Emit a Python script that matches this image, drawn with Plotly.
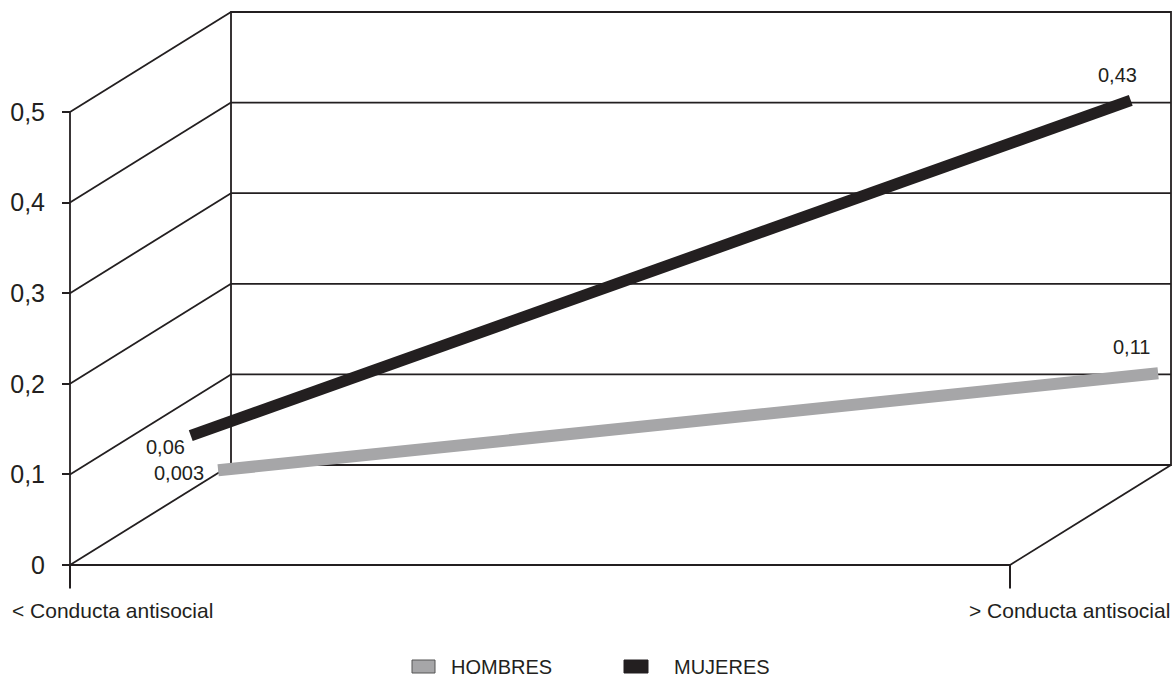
import plotly.graph_objects as go

# ---------------- data ----------------
categories = ["< Conducta antisocial", "> Conducta antisocial"]
hombres = [0.003, 0.11]
mujeres = [0.06, 0.43]
hombres_labels = ["0,003", "0,11"]
mujeres_labels = ["0,06", "0,43"]
y_ticks = [0, 0.1, 0.2, 0.3, 0.4, 0.5]
y_tick_text = ["0", "0,1", "0,2", "0,3", "0,4", "0,5"]
series_names = ["HOMBRES", "MUJERES"]

# ---------------- layout geometry ----------------
W, H = 1174, 681
X0, XW = 70, 940          # pixel of first category on the front plane, width of front plane
Y0, YS = 565, 906         # pixel of value 0 on front plane, pixels per unit
DX = 161 / XW             # depth offset (data units)
DY = 100 / YS
INK = "#231f20"
GREY = "#a6a6a8"
FONT = "Liberation Sans, Arial, sans-serif"

depth = {"HOMBRES": 0.92, "MUJERES": 0.75}


def proj(i, v, f):
    return i + f * DX, v + f * DY


fig = go.Figure()

# series lines
for name, vals, color, width in [("HOMBRES", hombres, GREY, 12), ("MUJERES", mujeres, INK, 11.5)]:
    xs, ys = [], []
    for i, v in enumerate(vals):
        px, py = proj(i, v, depth[name])
        xs.append(px)
        ys.append(py)
    fig.add_trace(go.Scatter(x=xs, y=ys, mode="lines", name=name,
                             line=dict(color=color, width=width),
                             showlegend=False, hoverinfo="skip"))

# frame shapes
shapes = []
ln = dict(color=INK, width=1.8)
top = y_ticks[-1]
shapes.append(dict(type="line", x0=0, y0=0, x1=0, y1=top, line=ln))
for v in y_ticks:
    shapes.append(dict(type="line", x0=0, y0=v, x1=DX, y1=v + DY, line=ln))
shapes.append(dict(type="rect", x0=DX, y0=DY, x1=1 + DX, y1=top + DY, line=ln))
for v in y_ticks[1:-1]:
    shapes.append(dict(type="line", x0=DX, y0=v + DY, x1=1 + DX, y1=v + DY, line=ln))
shapes.append(dict(type="line", x0=0, y0=0, x1=1, y1=0, line=ln))
shapes.append(dict(type="line", x0=1, y0=0, x1=1 + DX, y1=DY, line=ln))
for i in range(len(categories)):
    shapes.append(dict(type="line", x0=i, y0=0, x1=i, y1=-0.026, line=dict(color=INK, width=2)))
for s in shapes:
    s.update(xref="x", yref="y", layer="below")

# legend (manual)
leg = [(412, 435, GREY, "#555555", 449), (624, 648, INK, INK, 672)]
annotations = []
for (xa, xb, fill, edge, tx), name in zip(leg, series_names):
    shapes.append(dict(type="rect", xref="paper", yref="paper",
                       x0=xa / W, x1=xb / W, y0=1 - 673 / H, y1=1 - 660 / H,
                       fillcolor=fill, line=dict(color=edge, width=1)))
    annotations.append(dict(xref="paper", yref="paper", x=tx / W, y=1 - 667 / H,
                            xanchor="left", yanchor="middle", text=name, showarrow=False,
                            font=dict(size=20, color=INK, family=FONT)))

# category labels
annotations.append(dict(xref="paper", yref="paper", x=10 / W, y=1 - 610 / H,
                        xanchor="left", yanchor="middle", text=categories[0], showarrow=False,
                        font=dict(size=21, color=INK, family=FONT)))
annotations.append(dict(xref="paper", yref="paper", x=1172 / W, y=1 - 610 / H,
                        xanchor="right", yanchor="middle", text=categories[1], showarrow=False,
                        font=dict(size=21, color=INK, family=FONT)))

# data labels
label_offsets = {
    ("MUJERES", 0): ("right", -4, -11),
    ("MUJERES", 1): ("center", -13, 25),
    ("HOMBRES", 0): ("right", -12, -3),
    ("HOMBRES", 1): ("center", -27, 26),
}
for name, vals, labs in [("HOMBRES", hombres, hombres_labels), ("MUJERES", mujeres, mujeres_labels)]:
    for i, (v, t) in enumerate(zip(vals, labs)):
        px, py = proj(i, v, depth[name])
        xa, xs, ys = label_offsets[(name, i)]
        annotations.append(dict(x=px, y=py, xref="x", yref="y", text=t, showarrow=False,
                                xanchor=xa, yanchor="middle", xshift=xs, yshift=ys,
                                font=dict(size=20, color=INK, family=FONT)))

fig.update_layout(
    width=W, height=H,
    margin=dict(l=0, r=0, t=0, b=0),
    paper_bgcolor="white", plot_bgcolor="white",
    xaxis=dict(range=[-X0 / XW, (W - X0) / XW], visible=False, fixedrange=True),
    yaxis=dict(range=[(Y0 - H) / YS, Y0 / YS], anchor="free", position=X0 / W,
               tickvals=y_ticks, ticktext=y_tick_text, ticks="outside", ticklen=8,
               tickwidth=2, tickcolor=INK, showgrid=False, zeroline=False, showline=False,
               ticklabelstandoff=12, tickfont=dict(size=25, color=INK, family=FONT),
               fixedrange=True),
    shapes=shapes,
    annotations=annotations,
    showlegend=False,
)

fig.write_html("out.html")
